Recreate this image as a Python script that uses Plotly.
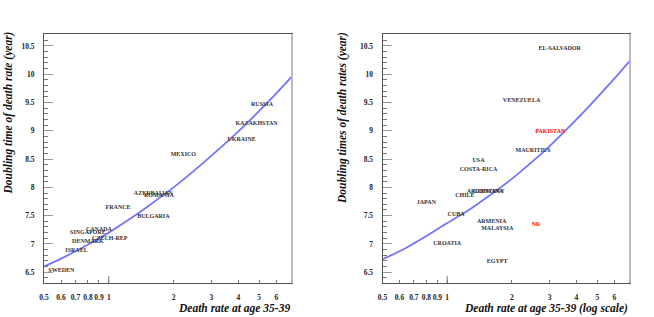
import plotly.graph_objects as go

# ---- data ----
# left panel: country labels
left_names = ['RUSSIA', 'KAZAKHSTAN', 'UKRAINE', 'MEXICO', 'AZERBAIJAN', 'ROMANIA',
              'FRANCE', 'BULGARIA', 'CANADA', 'SINGAPORE', 'CZECH-REP', 'DENMARK',
              'ISRAEL', 'SWEDEN']
left_rate = [5.15, 4.86, 4.14, 2.22, 1.61, 1.71, 1.105, 1.61, 0.90, 0.80, 1.01, 0.80, 0.708, 0.602]
left_doubling = [9.47, 9.12, 8.85, 8.58, 7.90, 7.85, 7.65, 7.49, 7.25, 7.21, 7.09, 7.04, 6.89, 6.53]

# right panel: country labels
right_names = ['EL-SALVADOR', 'VENEZUELA', 'PAKISTAN', 'MAURITIUS', 'USA', 'COSTA-RICA',
               'ARGENTINA', 'GERMANY', 'CHILE', 'JAPAN', 'CUBA', 'ARMENIA', 'MALAYSIA',
               'NK', 'CROATIA', 'EGYPT']
right_rate = [3.34, 2.22, 3.02, 2.51, 1.40, 1.40, 1.50, 1.56, 1.21, 0.80, 1.10, 1.61, 1.71,
              2.60, 1.00, 1.71]
right_doubling = [10.46, 9.53, 8.99, 8.66, 8.48, 8.31, 7.93, 7.93, 7.86, 7.73, 7.52, 7.39,
                  7.28, 7.35, 7.01, 6.69]
right_colors = ['#333', '#333', 'red', '#333', '#333', '#333', '#333', '#333', '#333', '#333',
                '#333', '#333', '#333', 'red', '#333', '#333']

# fitted curves
curve_rate = [0.5, 0.6, 0.7, 0.8, 1.0, 1.25, 1.5, 2, 2.5, 3, 4, 5, 6, 7.1]
left_curve = [6.60, 6.74, 6.87, 6.99, 7.20, 7.44, 7.65, 8.00, 8.30, 8.56, 8.99, 9.35, 9.66, 9.96]
right_curve = [6.73, 6.87, 7.01, 7.14, 7.37, 7.59, 7.80, 8.15, 8.46, 8.73, 9.20, 9.59, 9.92, 10.24]

x_ticks = [0.5, 0.6, 0.7, 0.8, 0.9, 1, 2, 3, 4, 5, 6]
x_ticktext = ['0.5', '0.6', '0.7', '0.8', '0.9', '1', '2', '3', '4', '5', '6']
y_ticks = [6.5, 7, 7.5, 8, 8.5, 9, 9.5, 10, 10.5]
y_ticktext = ['6.5', '7', '7.5', '8', '8.5', '9', '9.5', '10', '10.5']

SERIF = 'Liberation Serif'
lab_font = dict(family=SERIF, size=6, weight='bold', color='#333')

fig = go.Figure()

# curves
fig.add_trace(go.Scatter(x=curve_rate, y=left_curve, mode='lines', line_shape='spline',
                         line=dict(color='rgba(80,80,255,0.8)', width=1.8),
                         xaxis='x', yaxis='y', hoverinfo='skip'))
fig.add_trace(go.Scatter(x=curve_rate, y=right_curve, mode='lines', line_shape='spline',
                         line=dict(color='rgba(80,80,255,0.8)', width=1.8),
                         xaxis='x2', yaxis='y2', hoverinfo='skip'))

# labels
fig.add_trace(go.Scatter(x=left_rate, y=left_doubling, text=left_names, mode='text',
                         textposition='middle center', textfont=lab_font,
                         xaxis='x', yaxis='y', cliponaxis=False))
fig.add_trace(go.Scatter(x=right_rate, y=right_doubling, text=right_names, mode='text',
                         textposition='middle center',
                         textfont=dict(family=SERIF, size=6, weight='bold', color=right_colors),
                         xaxis='x2', yaxis='y2', cliponaxis=False))

tick_font = dict(family=SERIF, size=7.5, weight='bold', color='#222')


def xax(domain, anchor):
    return dict(domain=domain, anchor=anchor, type='log', range=[-0.30103, 0.8513],
                tickvals=x_ticks, ticktext=x_ticktext, ticks='inside', ticklen=3,
                tickcolor='#777', tickfont=tick_font, ticklabelstandoff=7, tickangle=0,
                showline=True, linecolor='#555', linewidth=1, mirror=True,
                showgrid=False, zeroline=False, automargin=False)


def yax(domain, anchor):
    return dict(domain=domain, anchor=anchor, range=[6.31, 10.71],
                tickvals=y_ticks, ticktext=y_ticktext, ticks='inside', ticklen=9,
                tickcolor='#999', tickfont=tick_font, ticklabelstandoff=7,
                minor=dict(dtick=0.1, tick0=6.3, ticks='inside', ticklen=4, tickcolor='#777'),
                showline=True, linecolor='#555', linewidth=1, mirror=True,
                showgrid=False, zeroline=False, automargin=False)


ydom = [0.1073, 0.8927]
fig.update_layout(
    width=654, height=317,
    margin=dict(l=0, r=0, t=0, b=0, autoexpand=False),
    paper_bgcolor='white', plot_bgcolor='white',
    showlegend=False,
    xaxis=xax([0.0673, 0.4465], 'y'),
    yaxis=yax(ydom, 'x'),
    xaxis2=xax([0.5849, 0.9633], 'y2'),
    yaxis2=yax(ydom, 'x2'),
)

title_font = dict(family=SERIF, size=11.5, weight='bold', style='italic', color='#111')
fig.add_annotation(text='Death rate at age 35-39', xref='paper', yref='paper',
                   x=0.4465, y=0.0, xanchor='right', yanchor='bottom',
                   showarrow=False, font=title_font)
fig.add_annotation(text='Death rate at age 35-39 (log scale)', xref='paper', yref='paper',
                   x=0.9633, y=0.0, xanchor='right', yanchor='bottom',
                   showarrow=False, font=title_font)
fig.add_annotation(text='Doubling time of death rate (year)', xref='paper', yref='paper',
                   x=8 / 654, y=(317 - 30) / 317, xanchor='center', yanchor='top',
                   textangle=-90, showarrow=False, font=title_font)
fig.add_annotation(text='Doubling times of death rates (year)', xref='paper', yref='paper',
                   x=343 / 654, y=(317 - 30) / 317, xanchor='center', yanchor='top',
                   textangle=-90, showarrow=False, font=title_font)

# longer tick at 1 and the grey right edge of each frame
for xr in ['x', 'x2']:
    fig.add_shape(type='line', xref=xr, yref='paper', x0=1, x1=1,
                  y0=ydom[0], y1=ydom[0] + 7 / 317, line=dict(color='#777', width=1))
for xr in ['x domain', 'x2 domain']:
    fig.add_shape(type='line', xref=xr, yref='paper', x0=1, x1=1,
                  y0=ydom[0], y1=ydom[1], line=dict(color='#bbb', width=2))

# page has a default body margin; drop it so the figure fills the window
fig.write_html('out.html', config={'displayModeBar': False},
               post_script="document.body.style.margin='0';")
